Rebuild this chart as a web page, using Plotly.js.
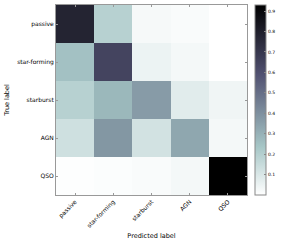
<!DOCTYPE html>
<html><head><meta charset="utf-8">
<script src="https://cdn.plot.ly/plotly-3.0.1.min.js"></script>
<style>html,body{margin:0;padding:0;background:#fff;}#chart{width:295px;height:241px;}</style>
</head><body><div id="chart"></div>
<script>
const predictedLabels = ["passive", "star-forming", "starburst", "AGN", "QSO"];
const trueLabels = ["passive", "star-forming", "starburst", "AGN", "QSO"];
const rowPassive = [0.78, 0.19, 0.025, 0.015, 0.0];
const rowStarForming = [0.25, 0.645, 0.05, 0.03, 0.0];
const rowStarburst = [0.19, 0.28, 0.365, 0.08, 0.04];
const rowAGN = [0.13, 0.38, 0.12, 0.33, 0.03];
const rowQSO = [0.005, 0.01, 0.015, 0.03, 0.93];
const cbTicks = [0.1, 0.2, 0.3, 0.4, 0.5, 0.6, 0.7, 0.8, 0.9];

const boneR = [
  [0, "rgb(255,255,255)"],
  [0.253968, "rgb(166,198,198)"],
  [0.634921, "rgb(81,81,113)"],
  [1, "rgb(0,0,0)"]
];

const trace = {
  type: "heatmap",
  x: predictedLabels,
  y: trueLabels,
  z: [rowPassive, rowStarForming, rowStarburst, rowAGN, rowQSO],
  colorscale: boneR,
  zmin: 0, zmax: 0.93,
  xgap: 0, ygap: 0,
  hoverinfo: "none",
  colorbar: {
    x: 1.042, xanchor: "left", xpad: 0,
    y: 0.5, yanchor: "middle", len: 1, lenmode: "fraction", ypad: 0,
    thickness: 11, thicknessmode: "pixels",
    outlinewidth: 1, outlinecolor: "#888",
    tickvals: cbTicks, ticktext: cbTicks.map(v => v.toFixed(1)),
    ticks: "inside", ticklen: 2, tickcolor: "#888",
    tickfont: {family: "DejaVu Sans", size: 4.5, color: "#000"}
  }
};

const layout = {
  width: 295, height: 241,
  margin: {l: 56, r: 48, t: 5, b: 46, pad: 0},
  paper_bgcolor: "#fff", plot_bgcolor: "#fff",
  font: {family: "DejaVu Sans", color: "#000"},
  xaxis: {
    type: "category", showgrid: false, zeroline: false,
    showline: true, linecolor: "#999", linewidth: 1, mirror: "allticks",
    ticks: "inside", ticklen: 2, tickcolor: "#999",
    tickangle: -45, tickfont: {size: 6, color: "#000"},
    title: {text: "Predicted label", font: {size: 6.5, color: "#000"}, standoff: 4}
  },
  yaxis: {
    type: "category", autorange: "reversed", showgrid: false, zeroline: false,
    showline: true, linecolor: "#999", linewidth: 1, mirror: "allticks",
    ticks: "inside", ticklen: 2, tickcolor: "#999",
    tickfont: {size: 6, color: "#000"},
    title: {text: "True label", font: {size: 6.5, color: "#000"}, standoff: 6}
  }
};

Plotly.newPlot("chart", [trace], layout, {staticPlot: true, displayModeBar: false});
</script>
</body></html>
